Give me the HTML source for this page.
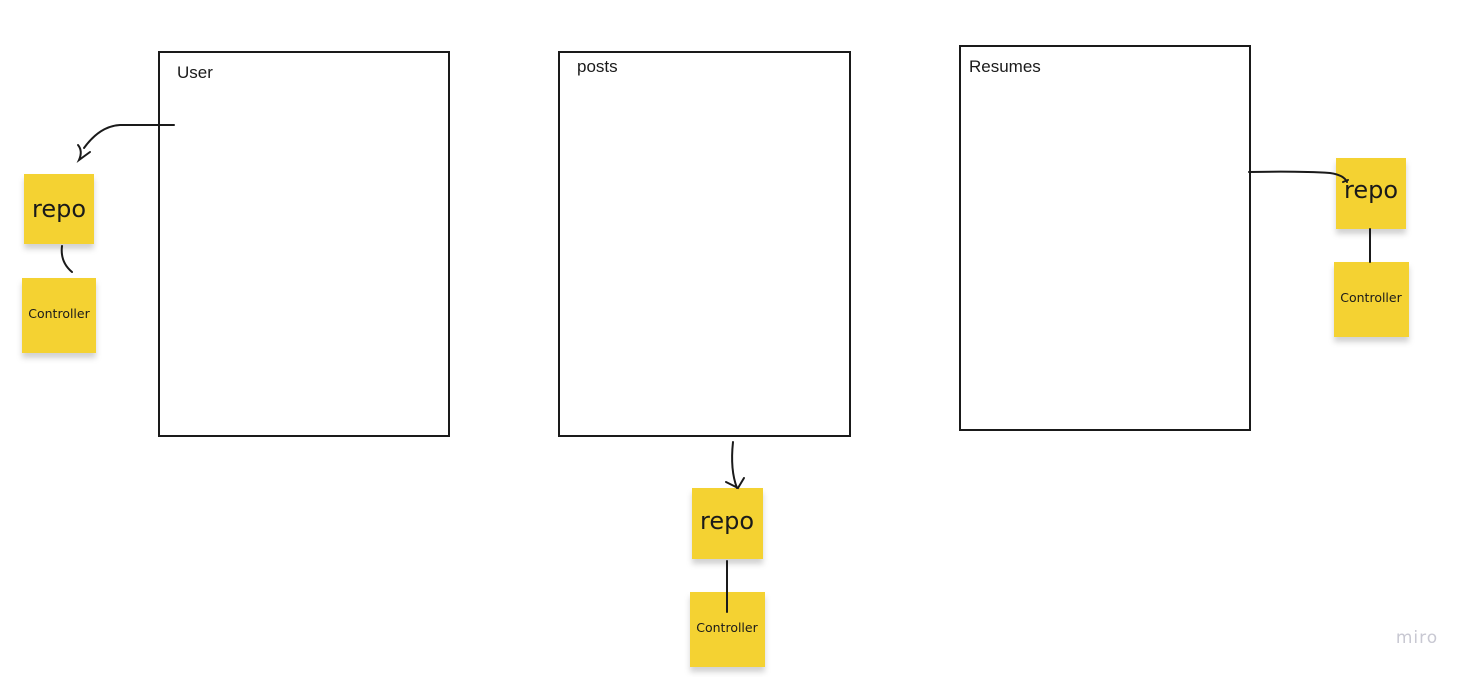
<!DOCTYPE html>
<html><head><meta charset="utf-8"><style>
html,body{margin:0;padding:0;background:#fff;}
svg{display:block;}
</style></head><body>
<svg width="1475" height="677" viewBox="0 0 1475 677" xmlns="http://www.w3.org/2000/svg">
<defs>
<filter id="sh" x="-20%" y="-20%" width="140%" height="150%">
<feDropShadow dx="0" dy="5" stdDeviation="3" flood-color="#000" flood-opacity="0.18"/>
</filter>
</defs>
<g fill="none" stroke="#1a1a1a" stroke-width="2">
<rect x="159" y="52" width="290" height="384"/>
<rect x="559" y="52" width="291" height="384"/>
<rect x="960" y="46" width="290" height="384"/>
</g>
<g font-family="Liberation Sans, sans-serif" font-size="17" fill="#1a1a1a">
<text x="177" y="78">User</text>
<text x="577" y="72">posts</text>
<text x="969" y="72">Resumes</text>
</g>
<g fill="#f4d232" filter="url(#sh)">
<rect x="24" y="174" width="70" height="70"/>
<rect x="22" y="278" width="74" height="75"/>
<rect x="692" y="488" width="71" height="71"/>
<rect x="690" y="592" width="75" height="75"/>
<rect x="1336" y="158" width="70" height="71"/>
<rect x="1334" y="262" width="75" height="75"/>
</g>
<g fill="none" stroke="#1a1a1a" stroke-width="2" stroke-linecap="round">
<path d="M174 125 L120 125 Q100 126 84 148"/>
<path d="M78 145 Q83 151 79 160 L90 152"/>
<path d="M62 246 Q60 262 72 272"/>
<path d="M733 442 Q730 470 737 488"/>
<path d="M726 482 L738 488 L744 478"/>
<line x1="727" y1="561" x2="727" y2="612"/>
<path d="M1249 172 Q1300 171 1330 173 Q1344 175 1347 182"/>
<path d="M1343 182 L1348 180"/>
<line x1="1370" y1="229" x2="1370" y2="262"/>
</g>
<g font-family="DejaVu Sans, Liberation Sans, sans-serif" fill="#1a1a1a" text-anchor="middle">
<text x="59" y="217" font-size="24">repo</text>
<text x="727" y="529" font-size="24">repo</text>
<text x="1371" y="198" font-size="24">repo</text>
<text x="59" y="318" font-size="12.5">Controller</text>
<text x="727" y="632" font-size="12.5">Controller</text>
<text x="1371" y="302" font-size="12.5">Controller</text>
</g>
<text x="1417" y="643" font-family="DejaVu Sans, sans-serif" font-size="17" fill="#c8c8d2" text-anchor="middle" letter-spacing="1">miro</text>
</svg>
</body></html>
